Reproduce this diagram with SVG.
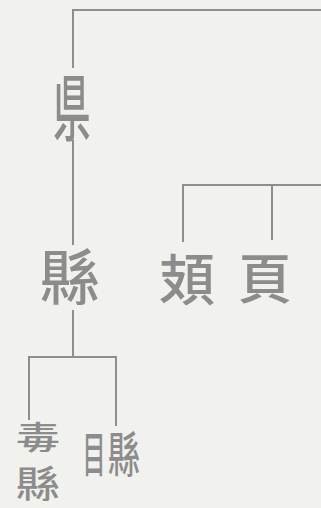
<svg xmlns="http://www.w3.org/2000/svg" width="321" height="508" viewBox="0 0 321 508">
<style>
.ln{stroke:#8e8e8e;stroke-width:2;fill:none}
.ch{font-family:"Noto Sans CJK TC","Noto Sans CJK SC",sans-serif;font-weight:500;fill:#8c8c8c;text-anchor:middle}
</style>
<rect width="321" height="508" fill="#f1f1ed"/>
<g id="connectors">
<path class="ln" d="M321 10 H73 V68"/>
<path class="ln" d="M73 140 V245"/>
<path class="ln" d="M73 310 V357"/>
<path class="ln" d="M29 420 V357 H116 V426"/>
<path class="ln" d="M183 242 V185 H321"/>
<path class="ln" d="M272 185 V240"/>
</g>
<g id="n1"><text class="ch" transform="translate(72 135) scale(0.75 1.45)" font-size="50">県</text></g>
<g id="n2"><text class="ch" x="70" y="300" font-size="60">縣</text></g>
<g id="n3"><text class="ch" x="187" y="300" font-size="56">頍</text></g>
<g id="n4"><text class="ch" x="265" y="299" font-size="54">頁</text></g>
<g id="n5"><text class="ch" transform="translate(38 449) scale(1 0.72)" font-size="44">毒</text><text class="ch" transform="translate(38 498) scale(1 0.85)" font-size="44">縣</text></g>
<g id="n6"><text class="ch" transform="translate(94 472) scale(0.5 1.05)" font-size="46">目</text><text class="ch" transform="translate(124 472) scale(0.7 1.05)" font-size="46">縣</text></g>
</svg>
